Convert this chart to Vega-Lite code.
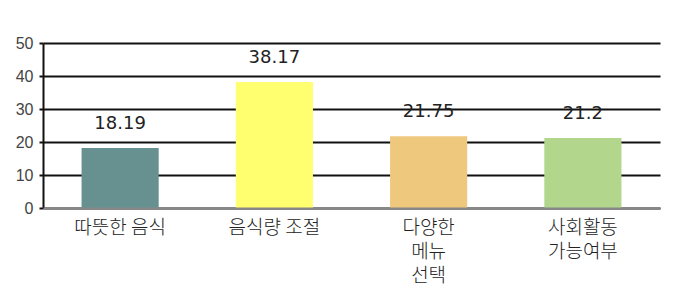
{
  "$schema": "https://vega.github.io/schema/vega-lite/v6.json",
  "width": 617,
  "height": 165,
  "autosize": {"type": "none"},
  "padding": {"left": 43, "top": 43, "right": 20, "bottom": 87},
  "background": "white",
  "config": {"view": {"stroke": null}},
  "data": {
    "values": [
      {"item": "따뜻한 음식", "value": 18.19, "color": "#679191"},
      {"item": "음식량 조절", "value": 38.17, "color": "#FFFF70"},
      {"item": "다양한 메뉴 선택", "value": 21.75, "color": "#EEC87C"},
      {"item": "사회활동 가능여부", "value": 21.2, "color": "#B2D68C"}
    ]
  },
  "encoding": {
    "x": {
      "field": "item",
      "type": "nominal",
      "sort": null,
      "scale": {"paddingInner": 0.5, "paddingOuter": 0.25},
      "axis": {
        "title": null,
        "labelAngle": 0,
        "labelFont": "Noto Sans CJK KR",
        "labelFontSize": 19,
        "labelFontWeight": 300,
        "labelColor": "#222222",
        "labelPadding": 10,
        "labelLineHeight": 24,
        "labelBaseline": "top",
        "labelExpr": "datum.value == '다양한 메뉴 선택' ? ['다양한', '메뉴', '선택'] : datum.value == '사회활동 가능여부' ? ['사회활동', '가능여부'] : datum.value",
        "ticks": false,
        "domainColor": "#888888",
        "domainWidth": 2,
        "zindex": 1
      }
    },
    "y": {
      "field": "value",
      "type": "quantitative",
      "scale": {"domain": [0, 50], "nice": false},
      "axis": {
        "title": null,
        "values": [0, 10, 20, 30, 40, 50],
        "grid": true,
        "gridColor": "#111111",
        "gridWidth": 2,
        "gridOpacity": 1,
        "domainColor": "#111111",
        "domainWidth": 2,
        "tickColor": "#111111",
        "tickSize": 4,
        "tickWidth": 2,
        "labelPadding": 6,
        "labelFont": "Liberation Sans",
        "labelFontSize": 16,
        "labelColor": "#444444"
      }
    }
  },
  "layer": [
    {
      "mark": {"type": "bar"},
      "encoding": {
        "color": {"field": "color", "type": "nominal", "scale": null}
      }
    },
    {
      "mark": {
        "type": "text",
        "baseline": "middle",
        "dy": -24,
        "font": "DejaVu Sans",
        "fontSize": 18,
        "color": "#222222"
      },
      "encoding": {
        "text": {"field": "value", "type": "quantitative", "format": ".4~f"}
      }
    }
  ]
}
